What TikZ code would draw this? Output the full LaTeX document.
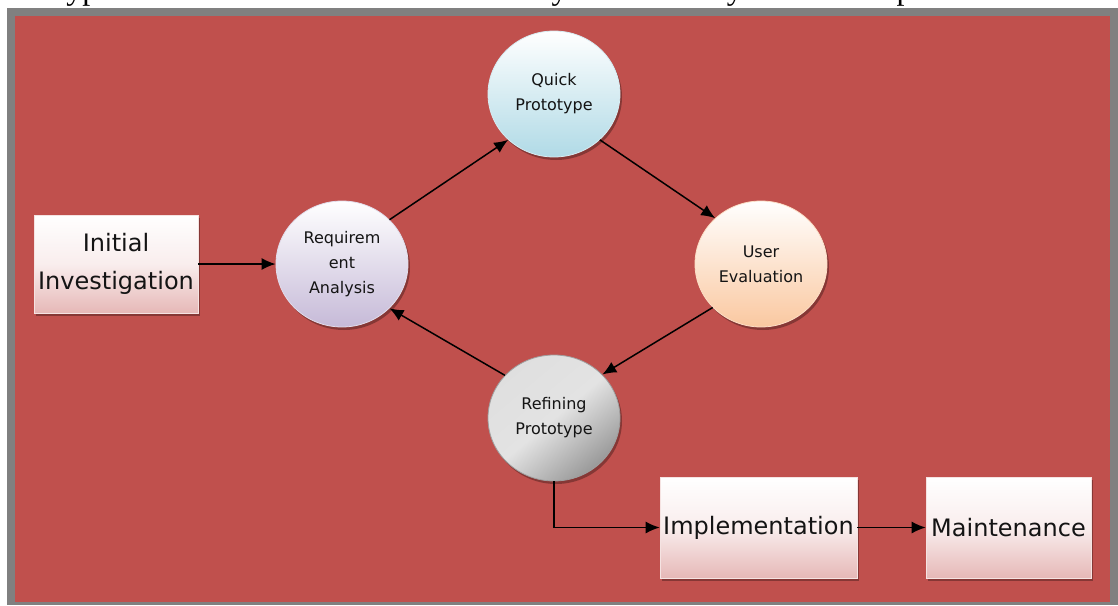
\documentclass[tikz,border=0pt]{standalone}
\usepackage{fontspec}
\setmainfont{DejaVu Sans}
\newfontfamily\captionserif{Liberation Serif}
\usetikzlibrary{shadows,arrows.meta,shapes.geometric}

\definecolor{canvasred}{RGB}{192,80,77}
\definecolor{framegray}{RGB}{128,128,128}
\definecolor{boxpink}{RGB}{230,184,183}
\definecolor{lavender}{RGB}{198,186,216}
\definecolor{iceblue}{RGB}{176,218,230}
\definecolor{peach}{RGB}{250,200,160}
\definecolor{inkblack}{RGB}{20,20,20}

\tikzset{
  softshadow/.style={drop shadow={shadow xshift=2pt, shadow yshift=-3pt, opacity=0.3, fill=black}},
  stagebox/.style={rectangle, inner sep=0pt, top color=white, bottom color=boxpink,
    middle color=white!75!boxpink, draw=white!60!boxpink, line width=0.6pt,
    font=\fontsize{24}{38}\selectfont, text=inkblack, align=center, softshadow},
  phase/.style={ellipse, minimum width=132pt, minimum height=126pt, inner sep=0pt,
    line width=0.8pt, font=\fontsize{16}{25}\selectfont, text=inkblack, align=center, softshadow},
  reqfill/.style={top color=white, bottom color=lavender, draw=white!50!lavender},
  quickfill/.style={top color=white, bottom color=iceblue, draw=white!50!iceblue},
  userfill/.style={top color=white, bottom color=peach, draw=white!40!peach},
  refinefill/.style={top color=gray!25, bottom color=gray!80, middle color=gray!22,
    shading angle=40, draw=gray!75},
  flow/.style={draw=black, line width=1.5pt, -{Latex[length=14pt,width=12pt]}}
}

\begin{document}
\begin{tikzpicture}[x=1pt,y=-1pt]
  \useasboundingbox (0,0) rectangle (1118,605);
  % page, frame and canvas
  \fill[white] (0,0) rectangle (1118,605);
  \fill[framegray] (7,8) rectangle (1118,605);
  \fill[canvasred] (15,16) rectangle (1110,602);

  % running text of the page above the figure
  \begin{scope}
    \clip (0,0) rectangle (1118,605);
    \node[anchor=base west, inner sep=0pt, font=\captionserif\fontsize{32}{38}\selectfont]
      (caption) at (-12,-1) {Prototype model is based on the evolutionary method of system development.};
  \end{scope}

  % stages
  \node[stagebox, minimum width=164pt, minimum height=98pt] (init) at (116,264) {Initial\\Investigation};
  \node[phase, reqfill] (req) at (342,264) {Requirem\\ent\\Analysis};
  \node[phase, quickfill] (quick) at (554,94) {Quick\\Prototype};
  \node[phase, userfill] (user) at (761,264) {User\\Evaluation};
  \node[phase, refinefill] (refine) at (554,418) {Refining\\Prototype};
  \node[stagebox, minimum width=197pt, minimum height=101pt] (impl) at (758.5,527.5) {Implementation};
  \node[stagebox, minimum width=165pt, minimum height=101pt] (maint) at (1008.5,527.5) {Maintenance};

  % connectors
  \draw[flow] (init.east) -- (req.west);
  \draw[flow] (req.43) -- (quick.225);
  \draw[flow] (quick.315) -- (user.135);
  \draw[flow] (user.222) -- (refine.42);
  \draw[flow] (refine.139) -- (req.317);
  \draw[flow] (refine.south) |- (impl.west);
  \draw[flow] (impl.east) -- (maint.west);
\end{tikzpicture}
\end{document}
